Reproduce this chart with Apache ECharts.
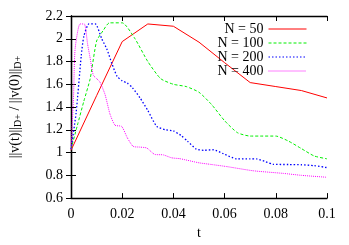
<!DOCTYPE html>
<html><head><meta charset="utf-8">
<script src="https://cdn.jsdelivr.net/npm/echarts@6/dist/echarts.min.js"></script>
<style>html,body{margin:0;padding:0;background:#fff}#c{width:349px;height:245px}</style>
</head><body><div id="c"></div>
<script>
var xTicks = [0, 0.02, 0.04, 0.06, 0.08, 0.1];
var yTicks = [0.6, 0.8, 1, 1.2, 1.4, 1.6, 1.8, 2, 2.2];
var seriesNames = ['N = 50', 'N = 100', 'N = 200', 'N = 400'];

var n50T = [0, 0.01, 0.02, 0.03, 0.04, 0.05, 0.06, 0.07, 0.08, 0.09, 0.1];
var n50V = [1.02, 1.50, 1.975, 2.13, 2.11, 1.97, 1.79, 1.615, 1.58, 1.545, 1.48];

var n100T = [0, 0.0025, 0.005, 0.0075, 0.01, 0.0125, 0.015, 0.02, 0.025, 0.03, 0.035, 0.04, 0.045, 0.05, 0.055, 0.06, 0.065, 0.07, 0.075, 0.08, 0.085, 0.09, 0.095, 0.1];
var n100V = [1.03, 1.24, 1.45, 1.65, 1.98, 2.07, 2.14, 2.14, 2.0, 1.80, 1.65, 1.60, 1.58, 1.53, 1.42, 1.28, 1.175, 1.145, 1.145, 1.145, 1.10, 1.035, 0.97, 0.945];

var n200T = [0, 0.002, 0.004, 0.005, 0.007, 0.0095, 0.012, 0.014, 0.016, 0.018, 0.02, 0.022, 0.024, 0.027, 0.03, 0.0335, 0.037, 0.04, 0.043, 0.0455, 0.049, 0.052, 0.0556, 0.0595, 0.0647, 0.07, 0.0725, 0.076, 0.079, 0.085, 0.09, 0.095, 0.1];
var n200V = [1.03, 1.35, 1.85, 2.02, 2.13, 2.13, 2.0, 1.91, 1.78, 1.67, 1.63, 1.61, 1.57, 1.48, 1.37, 1.23, 1.20, 1.19, 1.15, 1.10, 1.03, 1.02, 1.025, 0.99, 0.945, 0.945, 0.944, 0.92, 0.897, 0.895, 0.893, 0.885, 0.868];

var n400T = [0, 0.001, 0.0016, 0.0035, 0.0052, 0.0065, 0.0074, 0.0087, 0.01, 0.0113, 0.0133, 0.0152, 0.0172, 0.0198, 0.022, 0.0243, 0.027, 0.0296, 0.0328, 0.036, 0.0393, 0.0426, 0.05, 0.0543, 0.0608, 0.0712, 0.083, 0.09, 0.1];
var n400V = [1.03, 1.5, 1.91, 2.13, 2.13, 1.95, 1.84, 1.68, 1.65, 1.62, 1.51, 1.34, 1.24, 1.23, 1.13, 1.054, 1.048, 1.04, 0.983, 0.98, 0.954, 0.946, 0.91, 0.897, 0.877, 0.84, 0.817, 0.80, 0.783];

function pairs(t, v) { return t.map(function (x, i) { return [x, v[i]]; }); }

var FONT = '"Liberation Serif", "DejaVu Serif", serif';
var chart = echarts.init(document.getElementById('c'), null, {renderer: 'canvas'});
var axisCommon = {
  axisLine: {show: true, lineStyle: {color: '#000', width: 1.3}},
  axisTick: {show: true, inside: true, length: 5, lineStyle: {color: '#000', width: 1}},
  splitLine: {show: false}
};
function mk(extra) { return Object.assign({}, axisCommon, extra); }

chart.setOption({
  animation: false,
  grid: {left: 71, right: 22, top: 16, bottom: 42},
  legend: {
    orient: 'vertical', right: 37, top: 17, align: 'right',
    itemWidth: 38, itemHeight: 8, itemGap: 0,
    itemStyle: {opacity: 0},
    lineStyle: {width: 1},
    textStyle: {fontFamily: FONT, fontSize: 14, lineHeight: 14, color: '#000', width: 52, align: 'right'},
    data: seriesNames
  },
  xAxis: [
    mk({type: 'value', min: 0, max: 0.1, interval: 0.02, position: 'bottom',
      name: 't', nameLocation: 'middle', nameGap: 27,
      nameTextStyle: {fontFamily: FONT, fontSize: 14, color: '#000'},
      axisLabel: {fontFamily: FONT, fontSize: 14, color: '#000', margin: 9,
        formatter: function (v) { return String(+v.toFixed(2)); }}}),
    mk({type: 'value', min: 0, max: 0.1, interval: 0.02, position: 'top', axisLabel: {show: false}})
  ],
  yAxis: [
    mk({type: 'value', min: 0.6, max: 2.2, interval: 0.2, position: 'left',
      name: '{n|||v(t)||}{s|D+}{n| / ||v(0)||}{s|D+}', nameLocation: 'middle', nameGap: 48, nameRotate: 90,
      nameTextStyle: {rich: {
        n: {fontFamily: FONT, fontSize: 14, color: '#000'},
        s: {fontFamily: FONT, fontSize: 10, color: '#000', verticalAlign: 'bottom', padding: [6, 0, 0, 0]}
      }},
      axisLabel: {fontFamily: FONT, fontSize: 14, color: '#000', margin: 8,
        formatter: function (v) { return String(+v.toFixed(1)); }}}),
    mk({type: 'value', min: 0.6, max: 2.2, interval: 0.2, position: 'right', axisLabel: {show: false}})
  ],
  series: [
    {name: seriesNames[0], type: 'line', symbol: 'none', data: pairs(n50T, n50V),
      lineStyle: {color: '#ff0000', width: 1}, itemStyle: {color: '#ff0000'}},
    {name: seriesNames[1], type: 'line', symbol: 'none', smooth: 0.2, data: pairs(n100T, n100V),
      lineStyle: {color: '#00ee00', width: 1, type: [3, 2]}, itemStyle: {color: '#00ee00'}},
    {name: seriesNames[2], type: 'line', symbol: 'none', smooth: 0.2, data: pairs(n200T, n200V),
      lineStyle: {color: '#0000ff', width: 1.3, type: [1.5, 2]}, itemStyle: {color: '#0000ff'}},
    {name: seriesNames[3], type: 'line', symbol: 'none', smooth: 0.2, data: pairs(n400T, n400V),
      lineStyle: {color: '#ff00ff', width: 1, type: [1, 1]}, itemStyle: {color: '#ff00ff'}}
  ]
});
</script></body></html>
